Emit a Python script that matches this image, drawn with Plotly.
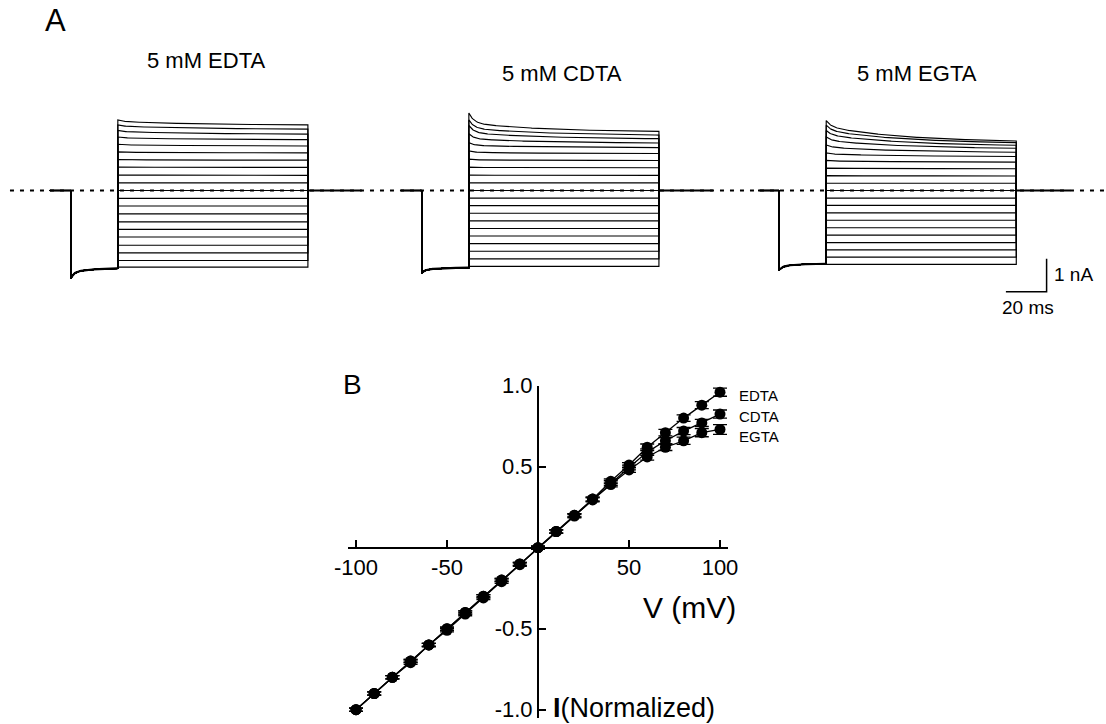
import numpy as np
import plotly.graph_objects as go

W, H = 1106, 724

# ---------------- Panel B data (normalized I-V) ----------------
V_mV = [-100, -90, -80, -70, -60, -50, -40, -30, -20, -10, 0,
        10, 20, 30, 40, 50, 60, 70, 80, 90, 100]
iv_edta = [-1.00, -0.90, -0.80, -0.71, -0.60, -0.51, -0.41, -0.31, -0.21, -0.105, 0.0,
           0.10, 0.20, 0.30, 0.41, 0.51, 0.62, 0.71, 0.80, 0.88, 0.96]
iv_cdta = [-1.00, -0.90, -0.80, -0.70, -0.60, -0.50, -0.40, -0.30, -0.20, -0.10, 0.0,
           0.10, 0.20, 0.30, 0.40, 0.495, 0.59, 0.66, 0.72, 0.77, 0.825]
iv_egta = [-1.00, -0.90, -0.80, -0.70, -0.60, -0.50, -0.40, -0.30, -0.20, -0.10, 0.0,
           0.10, 0.195, 0.295, 0.39, 0.48, 0.56, 0.62, 0.66, 0.71, 0.73]
err_edta = [0.01] * 11 + [0.01, 0.01, 0.012, 0.015, 0.015, 0.02, 0.02, 0.02, 0.022, 0.025]
err_cdta = [0.01] * 11 + [0.01, 0.01, 0.012, 0.015, 0.015, 0.02, 0.02, 0.022, 0.022, 0.025]
err_egta = [0.01] * 11 + [0.01, 0.01, 0.012, 0.015, 0.015, 0.02, 0.02, 0.022, 0.025, 0.03]
series_names = ["EDTA", "CDTA", "EGTA"]
x_ticks = [-100, -50, 50, 100]
y_ticks = [-1.0, -0.5, 0.5, 1.0]

# ---------------- Panel A data (current families, nA) ----------------
family_titles = ["5 mM EDTA", "5 mM CDTA", "5 mM EGTA"]
end_edta = [-2.32, -2.12, -1.89, -1.66, -1.41, -1.18, -0.95, -0.71, -0.47, -0.24, 0.0,
            0.23, 0.46, 0.70, 0.92, 1.14, 1.35, 1.54, 1.71, 1.86, 1.99]
peak_edta = [-2.32, -2.12, -1.89, -1.66, -1.41, -1.18, -0.95, -0.71, -0.47, -0.24, 0.0,
             0.23, 0.47, 0.71, 0.94, 1.17, 1.40, 1.62, 1.82, 1.99, 2.14]
end_cdta = [-2.30, -2.07, -1.84, -1.61, -1.38, -1.15, -0.92, -0.69, -0.46, -0.23, 0.0,
            0.23, 0.46, 0.69, 0.91, 1.12, 1.30, 1.44, 1.57, 1.68, 1.79]
peak_cdta = [-2.30, -2.07, -1.84, -1.61, -1.38, -1.15, -0.92, -0.69, -0.46, -0.23, 0.0,
             0.23, 0.47, 0.71, 0.95, 1.20, 1.45, 1.72, 1.97, 2.14, 2.35]
end_egta = [-2.24, -2.02, -1.80, -1.58, -1.35, -1.13, -0.90, -0.68, -0.45, -0.23, 0.0,
            0.22, 0.44, 0.66, 0.86, 1.03, 1.16, 1.28, 1.37, 1.45, 1.50]
peak_egta = [-2.24, -2.02, -1.80, -1.58, -1.35, -1.13, -0.90, -0.68, -0.45, -0.23, 0.0,
             0.22, 0.45, 0.68, 0.91, 1.14, 1.38, 1.62, 1.82, 1.98, 2.12]
prepulse_min_nA = [-2.67, -2.50, -2.42]
prepulse_end_nA = [-2.36, -2.34, -2.22]
fast_fraction = [0.3, 0.55, 0.3]
family_onset_ms = [34.7, 207.2, 382.8]
protocol_ms = [10.2, 23.2, 93.4, 26.5]   # baseline, prepulse, test pulse, tail
scalebar_nA, scalebar_ms = 1.0, 20.0

families = [(end_edta, peak_edta), (end_cdta, peak_cdta), (end_egta, peak_egta)]

# ---------------- geometry helpers ----------------
PX_PER_MS = 2.035
PX_PER_NA = 33.0
A_TOP, A_BOT, A_BASE = 100.0, 320.0, 190.5


def pxx(x):
    return x / W


def pxy(y):
    return 1 - y / H


def slow(t, tau, T):
    return (np.exp(-t / tau) - np.exp(-T / tau)) / (1 - np.exp(-T / tau))


fig = go.Figure()

# dotted zero-current reference line
fig.add_trace(go.Scatter(x=[4.9, W / PX_PER_MS], y=[0, 0], mode="lines",
                         line=dict(color="black", width=2, dash="4px,6px"),
                         xaxis="x", yaxis="y", hoverinfo="skip"))

pre, pp, test, tail = protocol_ms
for k, (ends, peaks) in enumerate(families):
    t0 = family_onset_ms[k]
    xs, ys = [], []
    tpp = np.linspace(0, pp, 60)
    ipp = prepulse_end_nA[k] + (prepulse_min_nA[k] - prepulse_end_nA[k]) * (
        0.6 * np.exp(-tpp / 1.5) + 0.4 * slow(tpp, 10.0, pp))
    ttest = np.linspace(0, test, 240)
    ff = fast_fraction[k]
    for e, p in zip(ends, peaks):
        itest = e + (p - e) * (ff * np.exp(-ttest / 2.5) + (1 - ff) * slow(ttest, 40.0, test))
        tx = np.concatenate([[t0 - pre, t0], t0 + tpp, t0 + pp + ttest,
                             [t0 + pp + test, t0 + pp + test + tail]])
        iy = np.concatenate([[0, 0], ipp, itest, [0, 0]])
        xs += list(tx) + [None]
        ys += list(iy) + [None]
    fig.add_trace(go.Scatter(x=xs, y=ys, mode="lines",
                             line=dict(color="black", width=1.15),
                             xaxis="x", yaxis="y", hoverinfo="skip"))
    # thicker overlapping segments (baseline, prepulse, tail)
    fig.add_trace(go.Scatter(
        x=list(t0 + tpp[1:]) + [None, t0 - pre, t0, None, t0 + pp + test, t0 + pp + test + tail],
        y=list(ipp[1:]) + [None, 0, 0, None, 0, 0],
        mode="lines", line=dict(color="black", width=2.2),
        xaxis="x", yaxis="y", hoverinfo="skip"))

# scale bar
sb_t = 514.3
sb_i = -3.065
fig.add_trace(go.Scatter(x=[sb_t - scalebar_ms, sb_t, sb_t],
                         y=[sb_i, sb_i, sb_i + scalebar_nA], mode="lines",
                         line=dict(color="black", width=1.5),
                         xaxis="x", yaxis="y", hoverinfo="skip"))

# ---------------- Panel B traces ----------------
for name, vals, errs in zip(series_names, [iv_edta, iv_cdta, iv_egta],
                            [err_edta, err_cdta, err_egta]):
    fig.add_trace(go.Scatter(
        x=V_mV, y=vals, mode="lines+markers", name=name,
        line=dict(color="black", width=1.3),
        marker=dict(color="black", size=11),
        error_y=dict(type="data", array=errs, visible=True, color="black",
                     thickness=1.3, width=7),
        xaxis="x2", yaxis="y2"))

# ---------------- layout ----------------
a_range = [-(A_BOT - A_BASE) / PX_PER_NA, (A_BASE - A_TOP) / PX_PER_NA]
B_PX_PER_MV = 1.82
B_X0 = 538.0
B_PX_PER_UNIT = 162.0
B_Y0 = 547.7
bx_l, bx_r = 348.0, 728.0
by_t, by_b = 385.7, 718.0

font_family = "Liberation Sans, Arial, Helvetica, sans-serif"
fig.update_layout(
    width=W, height=H,
    margin=dict(l=0, r=0, t=0, b=0, pad=0, autoexpand=False),
    paper_bgcolor="white", plot_bgcolor="white",
    showlegend=False,
    font=dict(family=font_family, color="black"),
    xaxis=dict(domain=[0, 1], range=[0, W / PX_PER_MS], visible=False, automargin=False),
    yaxis=dict(domain=[pxy(A_BOT), pxy(A_TOP)], range=a_range, visible=False, automargin=False),
    xaxis2=dict(domain=[pxx(bx_l), pxx(bx_r)],
                range=[(bx_l - B_X0) / B_PX_PER_MV, (bx_r - B_X0) / B_PX_PER_MV],
                anchor="free", position=pxy(B_Y0), automargin=False,
                showline=True, linecolor="black", linewidth=2,
                ticks="inside", ticklen=7, tickwidth=2, tickcolor="black",
                tickvals=x_ticks, ticktext=[str(v) for v in x_ticks],
                tickfont=dict(size=22, family=font_family),
                showgrid=False, zeroline=False),
    yaxis2=dict(domain=[pxy(by_b), pxy(by_t)],
                range=[(B_Y0 - by_b) / B_PX_PER_UNIT, (B_Y0 - by_t) / B_PX_PER_UNIT],
                anchor="free", position=pxx(B_X0), automargin=False,
                showline=True, linecolor="black", linewidth=2,
                ticks="inside", ticklen=7, tickwidth=2, tickcolor="black",
                tickvals=y_ticks, ticktext=[f"{v:.1f}" for v in y_ticks],
                tickfont=dict(size=22, family=font_family),
                showgrid=False, zeroline=False),
)

ann = []


def add_text(text, x, y, size, xanchor="center", yanchor="middle"):
    ann.append(dict(text=text, x=pxx(x), y=pxy(y), xref="paper", yref="paper",
                    showarrow=False, xanchor=xanchor, yanchor=yanchor,
                    font=dict(size=size, family=font_family, color="black")))


add_text("A", 55, 20, 31)
add_text("B", 352, 385, 28)
title_pos = [(206, 61), (562, 73), (917, 73)]
for t, (x, y) in zip(family_titles, title_pos):
    add_text(t, x, y, 22)
add_text("1 nA", 1052, 275, 19, xanchor="left")
add_text("20 ms", 1028, 307, 19)
for name, y in zip(series_names, [395, 417, 436]):
    add_text(name, 737, y, 15, xanchor="left")
add_text("V (mV)", 690, 607, 30)
add_text("<b>I</b>(Normalized)", 551, 708, 27, xanchor="left")
fig.update_layout(annotations=ann)

fig.write_html("out.html",
               config={"displayModeBar": False},
               post_script="document.body.style.margin='0';document.body.style.overflow='hidden';")
